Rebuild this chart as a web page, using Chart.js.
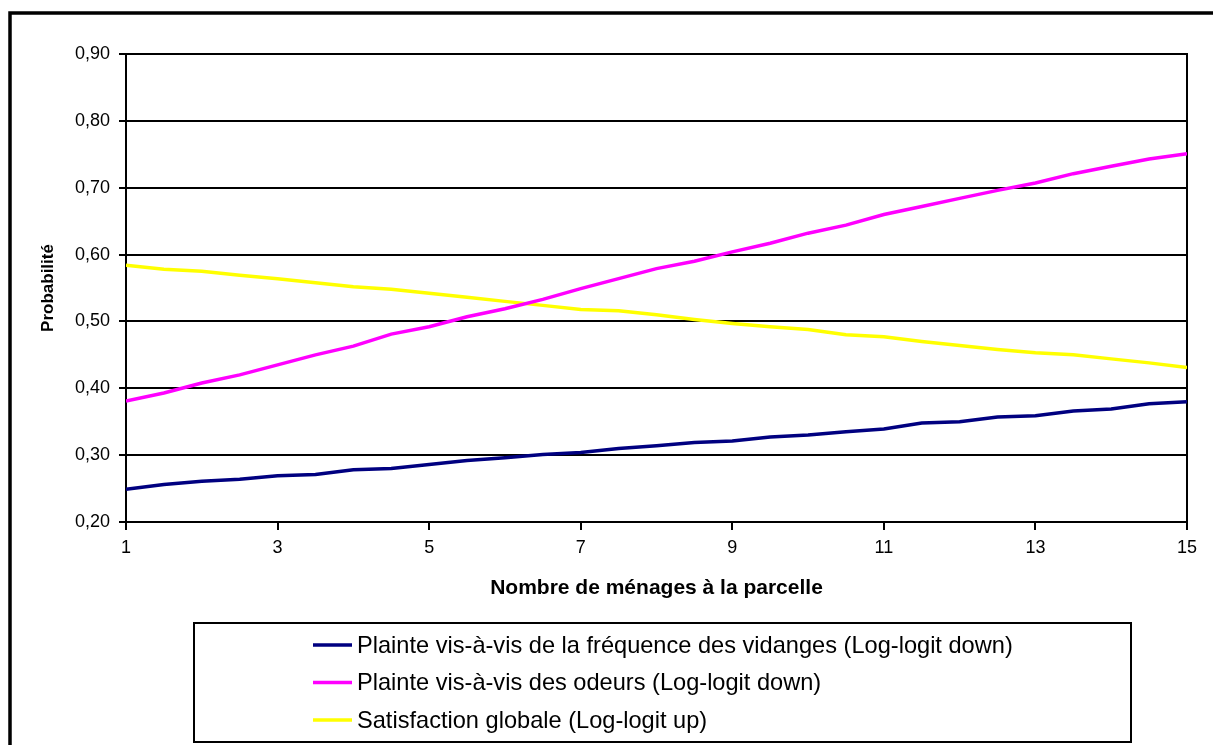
<!DOCTYPE html>
<html>
<head>
<meta charset="utf-8">
<script src="https://cdn.jsdelivr.net/npm/chart.js@4/dist/chart.umd.min.js"></script>
<style>
  html, body { margin: 0; padding: 0; background: #fff; }
  #wrap { width: 1213px; height: 745px; }
</style>
</head>
<body>
<div id="wrap"><canvas id="myChart" width="1213" height="745"></canvas></div>
<script>
// données
const menages = [1, 1.5, 2, 2.5, 3, 3.5, 4, 4.5, 5, 5.5, 6, 6.5, 7, 7.5, 8, 8.5, 9, 9.5, 10, 10.5, 11, 11.5, 12, 12.5, 13, 13.5, 14, 14.5, 15];
const vidanges = [0.249, 0.256, 0.261, 0.264, 0.269, 0.271, 0.278, 0.280, 0.286, 0.292, 0.296, 0.301, 0.304, 0.310, 0.314, 0.319, 0.321, 0.327, 0.330, 0.335, 0.339, 0.348, 0.350, 0.357, 0.359, 0.366, 0.369, 0.377, 0.380];
const odeurs = [0.381, 0.393, 0.408, 0.420, 0.435, 0.450, 0.463, 0.481, 0.492, 0.507, 0.519, 0.533, 0.549, 0.564, 0.579, 0.590, 0.604, 0.617, 0.632, 0.644, 0.660, 0.672, 0.684, 0.696, 0.707, 0.721, 0.732, 0.743, 0.751];
const satisfaction = [0.584, 0.578, 0.575, 0.569, 0.564, 0.558, 0.552, 0.548, 0.542, 0.536, 0.530, 0.524, 0.518, 0.516, 0.510, 0.503, 0.497, 0.492, 0.488, 0.480, 0.477, 0.470, 0.464, 0.458, 0.453, 0.450, 0.444, 0.438, 0.431];
const seriesLabels = [
    'Plainte vis-à-vis de la fréquence des vidanges (Log-logit down)',
    'Plainte vis-à-vis des odeurs (Log-logit down)',
    'Satisfaction globale (Log-logit up)'
];
const seriesColors = ['#000080', '#FF00FF', '#FFFF00'];

const FONT = "'Liberation Sans', Arial, sans-serif";

function toPoints(ys) {
    return menages.map((x, i) => ({x: x, y: ys[i]}));
}

// cadre du graphique + bordure de la zone de tracé
const framePlugin = {
    id: 'frame',
    beforeDatasetsDraw(chart) {
        const {ctx, chartArea} = chart;
        ctx.save();
        ctx.strokeStyle = '#000';
        ctx.lineWidth = 2;
        ctx.strokeRect(chartArea.left, chartArea.top, chartArea.right - chartArea.left, chartArea.bottom - chartArea.top);
        ctx.restore();
    },
    afterDraw(chart) {
        const ctx = chart.ctx;
        ctx.save();
        ctx.strokeStyle = '#000';
        ctx.lineWidth = 3.5;
        ctx.beginPath();
        ctx.moveTo(10, chart.height);
        ctx.lineTo(10, 13);
        ctx.lineTo(chart.width, 13);
        ctx.stroke();
        ctx.restore();
    }
};

// légende encadrée, façon Excel
const boxLegendPlugin = {
    id: 'boxLegend',
    afterDraw(chart) {
        const ctx = chart.ctx;
        const box = {left: 194, top: 623, right: 1131, bottom: 742};
        ctx.save();
        ctx.strokeStyle = '#000';
        ctx.lineWidth = 2;
        ctx.strokeRect(box.left, box.top, box.right - box.left, box.bottom - box.top);
        ctx.font = '23.6px ' + FONT;
        ctx.textBaseline = 'middle';
        ctx.textAlign = 'left';
        chart.data.datasets.forEach(function (ds, i) {
            const y = 645 + i * 37.5;
            ctx.strokeStyle = ds.borderColor;
            ctx.lineWidth = 3.5;
            ctx.beginPath();
            ctx.moveTo(313, y);
            ctx.lineTo(352, y);
            ctx.stroke();
            ctx.fillStyle = '#000';
            ctx.fillText(ds.label, 357, y + 1);
        });
        ctx.restore();
    }
};

const ctx = document.getElementById('myChart');
let chart = new Chart(ctx, {
    type: 'line',
    data: {
        datasets: [0, 1, 2].map(i => ({
            label: seriesLabels[i],
            data: toPoints([vidanges, odeurs, satisfaction][i]),
            borderColor: seriesColors[i],
            backgroundColor: seriesColors[i],
            borderWidth: 3.5,
            pointRadius: 0,
            tension: 0,
            fill: false
        }))
    },
    options: {
        responsive: false,
        devicePixelRatio: 1,
        animation: false,
        layout: {
            padding: {top: 54, right: 26, bottom: 140, left: 34}
        },
        plugins: {
            legend: {display: false},
            tooltip: {enabled: false}
        },
        scales: {
            x: {
                type: 'linear',
                min: 1,
                max: 15,
                afterFit: function (scale) { scale.height = 83; },
                grid: {
                    drawOnChartArea: false,
                    drawTicks: true,
                    tickLength: 8,
                    color: '#000',
                    lineWidth: 2
                },
                border: {display: true, color: '#000', width: 2},
                ticks: {
                    stepSize: 2,
                    padding: 7,
                    color: '#000',
                    font: {family: FONT, size: 18},
                    maxRotation: 0,
                    callback: v => String(v)
                },
                title: {
                    display: true,
                    text: 'Nombre de ménages à la parcelle',
                    color: '#000',
                    font: {family: FONT, size: 21, weight: 'bold'}
                }
            },
            y: {
                min: 0.2,
                max: 0.9,
                afterFit: function (scale) { scale.width = 92; },
                grid: {
                    color: '#000',
                    lineWidth: 2,
                    tickLength: 7
                },
                border: {display: true, color: '#000', width: 2},
                ticks: {
                    stepSize: 0.1,
                    padding: 9,
                    color: '#000',
                    font: {family: FONT, size: 18},
                    callback: v => v.toFixed(2).replace('.', ',')
                },
                title: {
                    display: true,
                    text: 'Probabilité',
                    color: '#000',
                    font: {family: FONT, size: 17, weight: 'bold'}
                }
            }
        }
    },
    plugins: [framePlugin, boxLegendPlugin]
});
</script>
</body>
</html>
